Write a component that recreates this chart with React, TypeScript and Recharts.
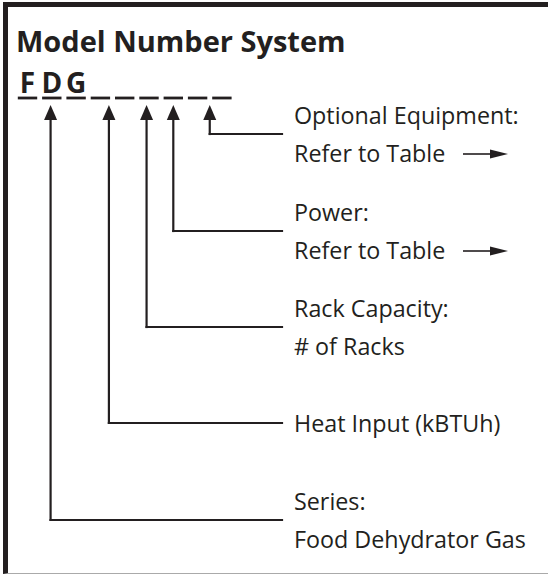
import { ComposedChart, ReferenceLine, Scatter, XAxis, YAxis } from "recharts";

const INK = "#231f20";
const FONT = "'Open Sans', 'Noto Sans', sans-serif";
const W = 548;
const H = 575;

// model code: fixed letters then blanks
const codeLetters = ["F", "D", "G"];
const blankSlots = 6;

// fields of the model number, bottom to top
const fieldTitles = ["Series:", "Heat Input (kBTUh)", "Rack Capacity:", "Power:", "Optional Equipment:"];
const fieldNotes = ["Food Dehydrator Gas", "", "# of Racks", "Refer to Table", "Refer to Table"];
const fieldSlots = [0.95, 3.35, 4.9, 6, 7.5]; // code position each arrow points at
const fieldLevels = [520, 423, 327, 231, 134]; // height of each leader rung
const fieldSeeTable = [false, false, false, true, true];

const SLOT_START = 27.5;
const SLOT_STEP = 24.3;
const CODE_Y = 98;
const ARROW_TIP = 105;
const ARROW_LEN = 15;
const RUNG_END = 282;
const TEXT_X = 294;

const slotX = (s: number) => SLOT_START + SLOT_STEP * s;

const slots = [...codeLetters, ...Array(blankSlots).fill("")].map((ch, i) => ({
  x: slotX(i),
  y: CODE_Y,
  ch
}));

const fields = fieldTitles.map((title, i) => ({
  title,
  note: fieldNotes[i],
  table: fieldSeeTable[i],
  px: slotX(fieldSlots[i]),
  level: fieldLevels[i]
}));

const arrowData = fields.map((f) => ({ x: f.px, y: ARROW_TIP }));
const labelData = fields.map((f) => ({ x: TEXT_X, y: f.level, title: f.title, note: f.note, table: f.table }));

function SlotShape(props: any) {
  const { cx, cy, payload } = props;
  return (
    <g>
      <line x1={cx - 9.7} x2={cx + 9.7} y1={cy} y2={cy} stroke={INK} strokeWidth={2.8} />
      {payload.ch && (
        <text x={cx} y={cy - 5} textAnchor="middle" fontFamily={FONT} fontWeight={700} fontSize={28} fill={INK}>
          {payload.ch}
        </text>
      )}
    </g>
  );
}

function ArrowShape(props: any) {
  const { cx, cy } = props;
  return <polygon points={`${cx},${cy} ${cx - 6.5},${cy + ARROW_LEN} ${cx + 6.5},${cy + ARROW_LEN}`} fill={INK} />;
}

function LabelShape(props: any) {
  const { cx, cy, payload } = props;
  const two = !!payload.note;
  const y1 = two ? cy - 19 : cy;
  const y2 = cy + 19;
  return (
    <g fontFamily={FONT} fontSize={23.3} fill={INK}>
      <text x={cx} y={y1} dominantBaseline="central">{payload.title}</text>
      {two && <text x={cx} y={y2} dominantBaseline="central">{payload.note}</text>}
      {payload.table && (
        <g>
          <line x1={cx + 169} x2={cx + 198} y1={y2 + 1} y2={y2 + 1} stroke={INK} strokeWidth={1.6} />
          <polygon points={`${cx + 196},${y2 - 3.5} ${cx + 214},${y2 + 1} ${cx + 196},${y2 + 5.5}`} fill={INK} />
        </g>
      )}
    </g>
  );
}

export default function App() {
  return (
    <div style={{ position: "absolute", left: 0, top: 0, width: W, height: H, background: "#fff" }}>
      <div
        style={{
          position: "absolute",
          left: 3,
          top: 2,
          width: W - 3,
          height: 572,
          boxSizing: "border-box",
          borderTop: `5px solid ${INK}`,
          borderLeft: `5px solid ${INK}`,
          borderBottom: "1px solid #aaa"
        }}
      />
      <div style={{ position: "absolute", left: 0, top: 0 }}>
        <ComposedChart width={W} height={H} margin={{ top: 0, right: 0, bottom: 0, left: 0 }}>
          <XAxis type="number" dataKey="x" domain={[0, W]} hide />
          <YAxis type="number" dataKey="y" domain={[0, H]} reversed hide />
          <text x={16} y={52} fontFamily={FONT} fontWeight={700} fontSize={29} fill={INK}>
            Model Number System
          </text>
          {fields.map((f, i) => (
            <ReferenceLine
              key={`v${i}`}
              segment={[
                { x: f.px, y: ARROW_TIP + ARROW_LEN - 1 },
                { x: f.px, y: f.level }
              ]}
              stroke={INK}
              strokeWidth={2.2}
              strokeLinecap="square"
              ifOverflow="visible"
            />
          ))}
          {fields.map((f, i) => (
            <ReferenceLine
              key={`h${i}`}
              segment={[
                { x: f.px, y: f.level },
                { x: RUNG_END, y: f.level }
              ]}
              stroke={INK}
              strokeWidth={2.2}
              strokeLinecap="square"
              ifOverflow="visible"
            />
          ))}
          <Scatter data={slots} dataKey="y" shape={SlotShape} isAnimationActive={false} />
          <Scatter data={arrowData} dataKey="y" shape={ArrowShape} isAnimationActive={false} />
          <Scatter data={labelData} dataKey="y" shape={LabelShape} isAnimationActive={false} />
        </ComposedChart>
      </div>
    </div>
  );
}
